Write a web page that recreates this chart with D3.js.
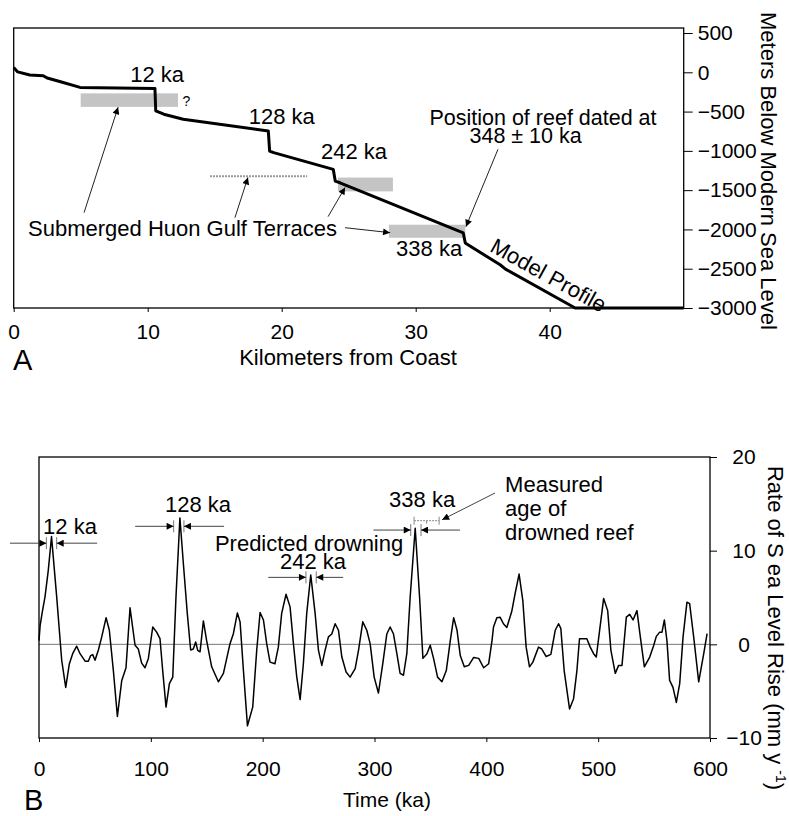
<!DOCTYPE html>
<html><head><meta charset="utf-8">
<script src="https://cdn.jsdelivr.net/npm/d3@7"></script>
<style>
body{margin:0;background:#fff;}
svg{display:block;font-family:"Liberation Sans",Arial,Helvetica,sans-serif;}
</style></head>
<body>
<svg id="chart" width="789" height="816"></svg>
<script>
// ---------- Panel A data ----------
const distKm = [0,0.3,1.2,2.2,2.5,3.5,4.95,10.54,10.6,11.2,12.65,19.0,19.1,19.4,23.85,24.0,24.35,27.3,33.55,33.7,33.9,36.3,36.7,41.9,50];
const depthM = [60,5,-35,-43,-73,-120,-192,-205,-490,-533,-597,-746,-1002,-1023,-1236,-1386,-1406,-1610,-2045,-2173,-2195,-2450,-2505,-3000,-3000];
const terraceStartKm = [5.0,24.2,28.0];
const terraceEndKm = [12.26,28.3,33.7];
const terraceTopM = [-268,-1340,-1940];
const terraceBottomM = [-440,-1516,-2106];
const faintTerraceKm = [14.65,21.9];
const faintTerraceM = -1322;
const kmTicks = [0,10,20,30,40];
const depthTicks = [500,0,-500,-1000,-1500,-2000,-2500,-3000];
const ageLabelsA = ["12 ka","128 ka","242 ka","338 ka"];

// ---------- Panel B data ----------
const timeKa = [0,1,3,5.4,8.3,11.2,15.8,20.3,23.9,27.1,30.1,33.7,36.7,41.2,44.1,46.2,48,50.1,53.1,56.1,60,62.9,66.5,70.1,74,77.8,81.4,85.9,88.8,91.8,94.8,97.8,101.7,105.2,108.2,110.6,113.6,116.6,119.6,122.5,126,129.1,132.6,135.6,138,140.1,141.9,144,147,149.9,154.4,160.4,164.9,170.8,173.8,177.4,179.8,182.8,186.4,191.1,194.7,197.7,200.7,203.6,206.6,211,214,217,220.9,224.5,227.5,230.5,233.5,236.4,239.4,243,246.9,249.9,252.9,255.9,258.8,261.8,264.8,267.8,270.8,274.6,278.2,282.7,285.7,289.5,293.1,296.1,299.7,303.5,307.4,311,314,317,320,322.9,325.9,328.9,331.9,336.4,340.3,343.3,346.9,349.8,352.8,356.4,360.3,364.2,367.8,370.8,373.8,376.7,380.3,384.2,388.7,393.2,397.6,402.1,405.1,406.4,409.4,412.3,415.3,418.3,422.7,425.7,429.3,432.6,435.6,438.6,441.6,446.6,449.6,453.5,457.7,461.6,464.6,466.6,469.6,474.4,478,481,483.3,486.9,489.9,492.9,495.9,498.3,501.3,504.9,508.5,511.4,515.3,518.3,521.3,525.2,528.2,531.2,534.7,537.7,541.3,546.1,549.7,552,555,557.1,559.2,561.5,563.9,566.9,569.9,572.9,575.9,579.4,581.8,585.4,589.9,594.4,597.4];
const rateMm = [0.4,2.0,3.5,5.1,7.9,11.5,5.1,-1.7,-4.6,-2.1,-1.0,-0.2,-1.0,-1.8,-1.8,-1.2,-1.1,-1.7,-0.6,0.8,2.85,1.5,-2.8,-7.7,-3.85,-2.5,3.9,-0.1,-0.5,-2.0,-2.5,-1.5,1.85,1.3,0.6,-2.8,-6.7,-4.2,-3.5,5.1,13.5,8.6,3.3,-0.6,-0.5,0.25,-0.65,-0.8,2.5,0.4,-2.4,-4.0,-3.1,0.07,1.14,3.35,2.4,-2.8,-8.7,-6.7,-0.6,3.4,2.6,0.07,-1.9,-2.07,-0.3,3.3,5.35,4.0,0.07,-3.5,-5.9,-2.07,3.3,7.4,3.3,-0.64,-2.25,-0.6,0.8,1.1,2.2,1.5,-1.36,-2.96,-3.5,-2.6,-0.64,2.4,1.5,0.07,-3.5,-5.2,-2.07,1.1,1.85,1.1,-1.0,-3.1,-3.3,-1.0,5.06,12.4,5.06,-1.5,-1.0,-0.1,-1.5,-3.5,-4.0,-2.8,0.43,2.85,1.5,-1.2,-2.4,-2.25,-1.4,-1.5,-2.5,-2.07,0.43,1.85,2.85,2.9,2.2,1.8,3.5,5.4,7.5,4.7,-0.3,-2.4,-1.9,-0.3,-0.5,-1.3,-1.07,1.5,2.2,1.7,-2.8,-6.9,-5.8,-2.8,0.6,0.6,0.6,-0.3,-1.0,-1.36,1.5,4.9,3.6,-0.64,-3.1,-2.25,-2.25,2.9,3.2,2.6,3.6,0.8,-2.4,-1.36,-0.1,0.85,1.3,1.3,2.6,0.4,-3.85,-4.6,-6.2,-4.2,0.8,4.5,4.35,0.8,-4.0,-1.0,1.14];
const timeTicks = [0,100,200,300,400,500,600];
const rateTicks = [20,10,0,-10];
const drowningAges = [11.2,125,243.3,337];
const drowningLabels = ["12 ka","128 ka","242 ka","338 ka"];
const measuredAgeKa = [335.4,357.8];

// ---------- Layout ----------
const svg = d3.select("#chart");
const FONT = "Liberation Sans, Arial, Helvetica, sans-serif";
const defs = svg.append("defs");
defs.append("marker").attr("id","ah").attr("viewBox","0 0 10 10")
  .attr("refX",10).attr("refY",5).attr("markerWidth",11).attr("markerHeight",7)
  .attr("markerUnits","userSpaceOnUse").attr("orient","auto")
  .append("path").attr("d","M0,0 L10,5 L0,10 Z").attr("fill","#000");

function arrow(g,x1,y1,x2,y2,color,w){
  g.append("line").attr("x1",x1).attr("y1",y1).attr("x2",x2).attr("y2",y2)
   .attr("stroke",color||"#222").attr("stroke-width",w||1).attr("marker-end","url(#ah)");
}
function label(g,x,y,t,anchor,size){
  return g.append("text").attr("x",x).attr("y",y).attr("text-anchor",anchor||"middle")
   .attr("font-size",size||22).attr("fill","#000").text(t);
}

// ---------- Panel A ----------
const xA = d3.scaleLinear().domain([0,50]).range([13.7,683.7]);
const yA = d3.scaleLinear().domain([-3000,564]).range([308,28]);
const gA = svg.append("g");

gA.selectAll("rect.terr").data(terraceStartKm).join("rect").attr("class","terr")
  .attr("x",(d,i)=>xA(d)).attr("width",(d,i)=>xA(terraceEndKm[i])-xA(d))
  .attr("y",(d,i)=>yA(terraceTopM[i])).attr("height",(d,i)=>yA(terraceBottomM[i])-yA(terraceTopM[i]))
  .attr("fill","#c4c4c4");
gA.append("line").attr("x1",xA(faintTerraceKm[0])).attr("x2",xA(faintTerraceKm[1]))
  .attr("y1",yA(faintTerraceM)).attr("y2",yA(faintTerraceM))
  .attr("stroke","#999").attr("stroke-width",2).attr("stroke-dasharray","2,1");
label(gA,xA(12.3)+4,yA(-365)+5,"?","start",14);

gA.append("rect").attr("x",xA(0)).attr("y",yA(564)).attr("width",xA(50)-xA(0))
  .attr("height",yA(-3000)-yA(564)).attr("fill","none").attr("stroke","#000").attr("stroke-width",1.3);

gA.append("path").datum(d3.range(distKm.length))
  .attr("d",d3.line().x(i=>xA(distKm[i])).y(i=>yA(depthM[i])))
  .attr("fill","none").attr("stroke","#000").attr("stroke-width",3).attr("stroke-linejoin","round");

const axA = gA.append("g").attr("transform",`translate(0,${yA(-3000)})`)
  .call(d3.axisBottom(xA).tickValues(kmTicks).tickSize(4).tickPadding(12).tickFormat(d3.format("d")));
const ayA = gA.append("g").attr("transform",`translate(${xA(50)},0)`)
  .call(d3.axisRight(yA).tickValues(depthTicks).tickSize(9).tickPadding(5).tickFormat(d3.format("d")));
[axA,ayA].forEach(a=>{a.select(".domain").remove();
  a.selectAll("text").attr("font-size",21).attr("font-family",FONT).attr("fill","#000");
  a.selectAll("line").attr("stroke","#000");});

label(gA,348,365,"Kilometers from Coast","middle",22);
gA.append("text").attr("transform","translate(761,171) rotate(90)").attr("text-anchor","middle")
  .attr("font-size",22).text("Meters Below Modern Sea Level");
label(gA,13,370,"A","start",29);

label(gA,xA(10.7),yA(-124),ageLabelsA[0]);
label(gA,xA(20.0),yA(-661),ageLabelsA[1]);
label(gA,xA(25.4),yA(-1108),ageLabelsA[2]);
label(gA,xA(31.0),yA(-2335),ageLabelsA[3]);
label(gA,xA(39.5),yA(-674),"Position of reef dated at",null,21.5);
label(gA,xA(38.2),yA(-905),"348 \u00b1 10 ka",null,21.5);
label(gA,xA(1.07),yA(-2089),"Submerged Huon Gulf Terraces","start");
gA.append("text").attr("transform",`translate(${xA(35.45)},${yA(-2270)}) rotate(29)`)
  .attr("font-size",22).text("Model Profile");

arrow(gA,xA(5.25),yA(-1786),xA(7.79),yA(-444));
arrow(gA,xA(16.51),yA(-1850),xA(17.48),yA(-1338));
arrow(gA,xA(23.46),yA(-1837),xA(24.73),yA(-1466));
arrow(gA,xA(24.73),yA(-1978),xA(28.09),yA(-2041));
arrow(gA,xA(36.14),yA(-980),xA(33.75),yA(-1965));

// ---------- Panel B ----------
const xB = d3.scaleLinear().domain([0,600]).range([39,710]);
const yB = d3.scaleLinear().domain([-10,20]).range([738,457]);
const gB = svg.append("g");

gB.append("line").attr("x1",xB(0)).attr("x2",xB(600)).attr("y1",yB(0)).attr("y2",yB(0))
  .attr("stroke","#777").attr("stroke-width",1);
gB.append("rect").attr("x",xB(0)).attr("y",yB(20)).attr("width",xB(600)-xB(0))
  .attr("height",yB(-10)-yB(20)).attr("fill","none").attr("stroke","#000").attr("stroke-width",1.3);

gB.append("path").datum(d3.range(timeKa.length))
  .attr("d",d3.line().x(i=>xB(timeKa[i])).y(i=>yB(rateMm[i])))
  .attr("fill","none").attr("stroke","#000").attr("stroke-width",1.5).attr("stroke-linejoin","round");

const axB = gB.append("g").attr("transform",`translate(0,${yB(-10)})`)
  .call(d3.axisBottom(xB).tickValues(timeTicks).tickSize(4).tickPadding(19).tickFormat(d3.format("d")));
const ayB = gB.append("g").attr("transform",`translate(${xB(600)},0)`)
  .call(d3.axisRight(yB).tickValues(rateTicks).tickSize(7).tickFormat(d3.format("d")));
ayB.selectAll("text").attr("x",34).attr("text-anchor","middle");
[axB,ayB].forEach(a=>{a.select(".domain").remove();
  a.selectAll("text").attr("font-size",21).attr("font-family",FONT).attr("fill","#000");
  a.selectAll("line").attr("stroke","#000");});

label(gB,387,807,"Time (ka)","middle",21);
label(gB,24,810,"B","start",29);
const rt = gB.append("text").attr("transform","translate(768,628) rotate(90)").attr("text-anchor","middle")
  .attr("font-size",22);
rt.append("tspan").text("Rate of S ea Level Rise (mm y ");
rt.append("tspan").attr("font-size",14).attr("dy",-8).text("-1");
rt.append("tspan").attr("dy",8).text(")");

const bracketY = [10.8,12.6,7.15,12.2];
const tailL = [-26,86,205,299];
const tailR = [52,165.5,272,376.5];
drowningAges.forEach((t,i)=>{
  const y = yB(bracketY[i]);
  [t-4.6,t+4.6].forEach(b=>gB.append("line").attr("x1",xB(b)).attr("x2",xB(b))
     .attr("y1",y-6).attr("y2",y+6).attr("stroke","#777").attr("stroke-width",1));
  arrow(gB,xB(tailL[i]),y,xB(t-4.6),y,"#444",1);
  arrow(gB,xB(tailR[i]),y,xB(t+4.6),y,"#444",1);
});
label(gB,xB(27.7),yB(11.74),drowningLabels[0]);
label(gB,xB(142.2),yB(14.1),drowningLabels[1]);
label(gB,xB(245),yB(8.0),drowningLabels[2]);
label(gB,xB(342.6),yB(14.7),drowningLabels[3]);
label(gB,xB(241.5),yB(10.0),"Predicted drowning");

const my = yB(13.2);
gB.append("line").attr("x1",xB(measuredAgeKa[0])).attr("x2",xB(measuredAgeKa[1])).attr("y1",my).attr("y2",my)
  .attr("stroke","#888").attr("stroke-width",1).attr("stroke-dasharray","2,1");
measuredAgeKa.forEach(b=>gB.append("line").attr("x1",xB(b)).attr("x2",xB(b)).attr("y1",my-4).attr("y2",my+4)
  .attr("stroke","#888").attr("stroke-width",1));
gB.append("line").attr("x1",xB(d3.mean(measuredAgeKa))).attr("x2",xB(d3.mean(measuredAgeKa)))
  .attr("y1",my).attr("y2",my+3).attr("stroke","#888");
arrow(gB,495,493,xB(measuredAgeKa[1])+3,my-1,"#444",1);
label(gB,xB(416.8),yB(16.3),"Measured","start");
label(gB,xB(416.8),yB(13.75),"age of","start");
label(gB,xB(416.8),yB(11.1),"drowned reef","start");
</script>
</body></html>
